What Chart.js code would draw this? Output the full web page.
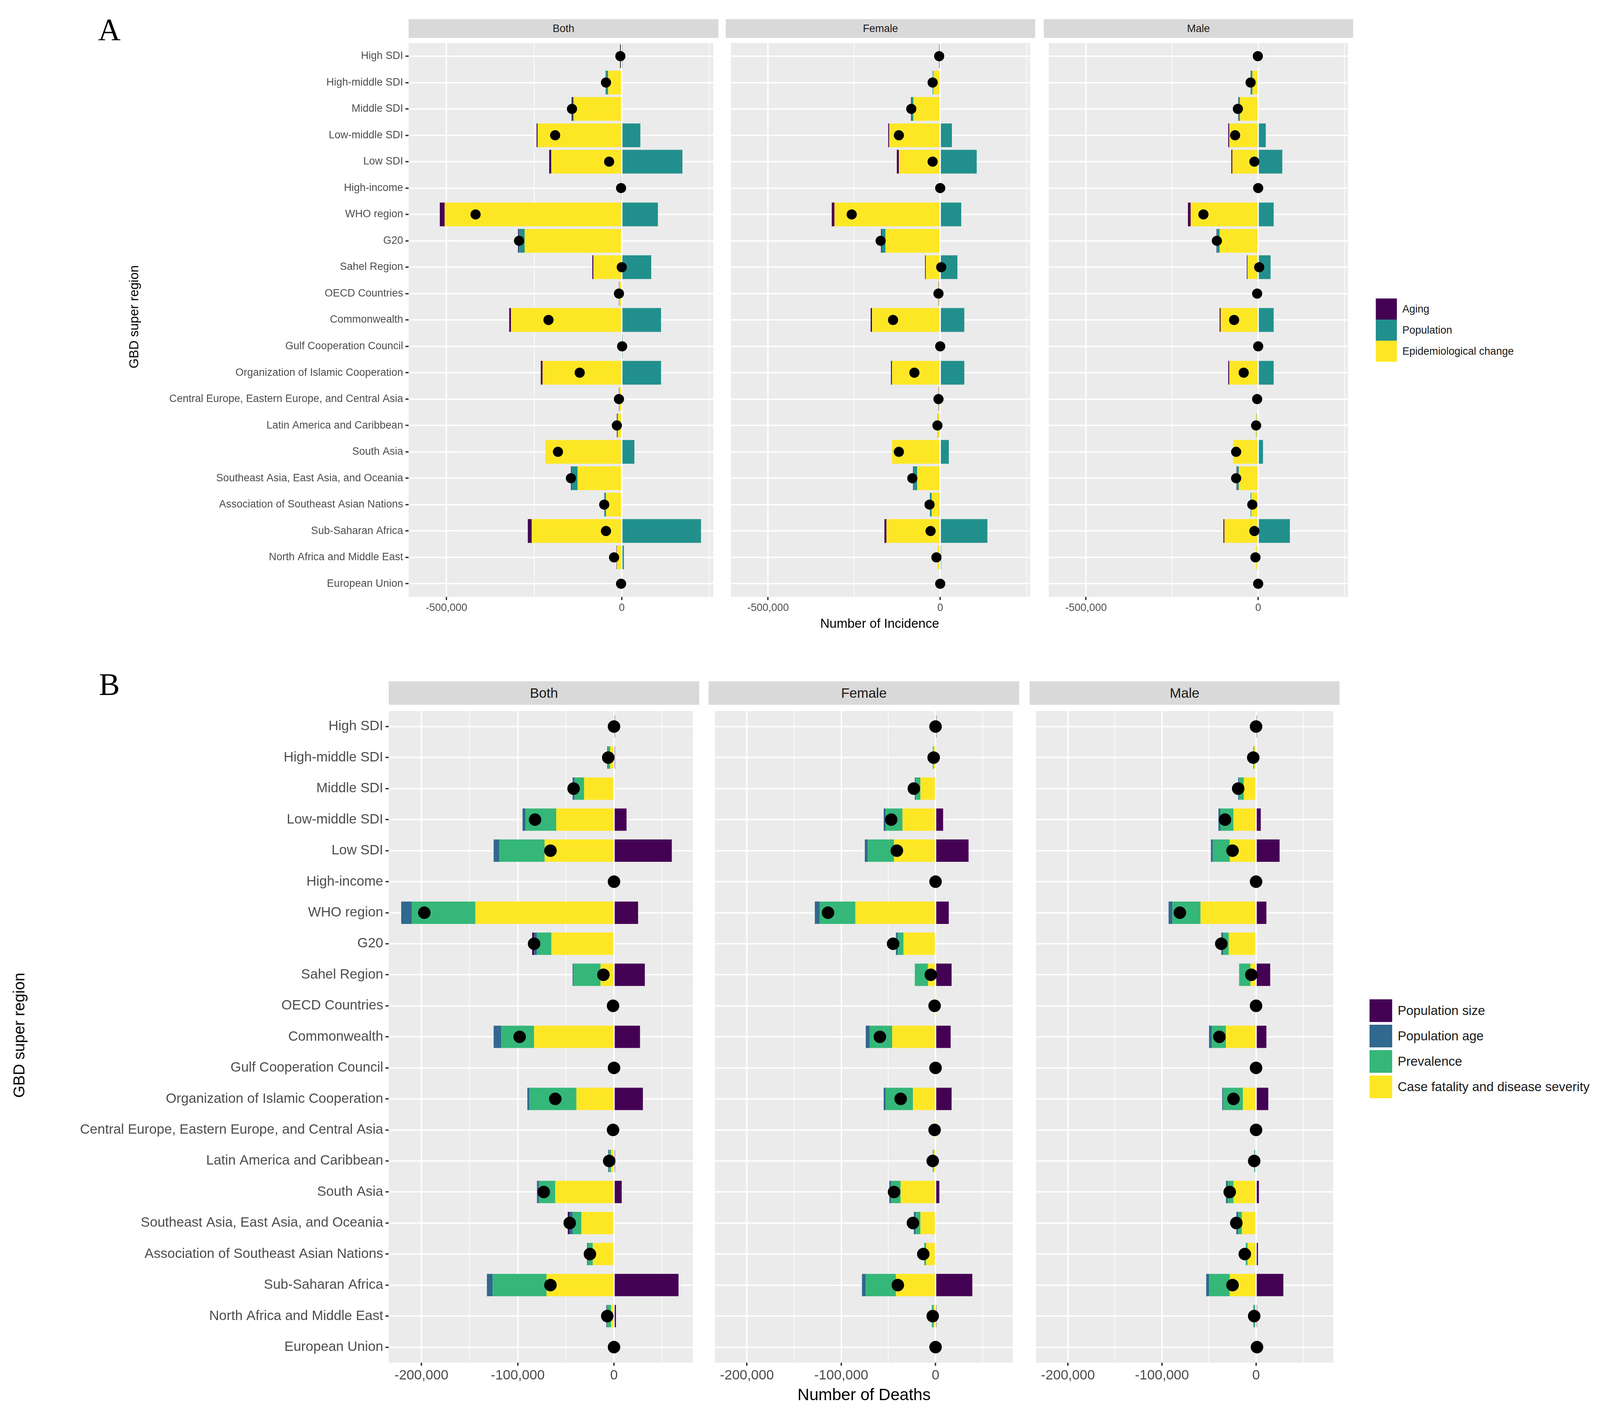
<!DOCTYPE html>
<html><head><meta charset="utf-8">
<script src="https://cdn.jsdelivr.net/npm/chart.js@4.4.1/dist/chart.umd.min.js"></script>
<style>
body{margin:0;background:#fff;font-family:"Liberation Sans",Arial,sans-serif;}
#root{position:relative;width:4240px;height:3622px;overflow:hidden;}
.abs{position:absolute;}
.strip{position:absolute;background:#D9D9D9;color:#1A1A1A;text-align:center;}
.lg{position:absolute;color:#1A1A1A;}
.lg div{display:flex;align-items:center;}
.lg span{display:inline-block;margin-right:14px;}
</style></head><body><div id="root"></div>
<script>
const regions = ["High SDI","High-middle SDI","Middle SDI","Low-middle SDI","Low SDI","High-income","WHO region","G20","Sahel Region","OECD Countries","Commonwealth","Gulf Cooperation Council","Organization of Islamic Cooperation","Central Europe, Eastern Europe, and Central Asia","Latin America and Caribbean","South Asia","Southeast Asia, East Asia, and Oceania","Association of Southeast Asian Nations","Sub-Saharan Africa","North Africa and Middle East","European Union"];
const sexes = ["Both","Female","Male"];

// Panel A, incidence, thousands
const aBothEpi = [-3,-39,-137,-240,-201,-1,-505,-277,-81,-7,-316,0,-226,-7,-11,-218,-126,-45,-257,-14,-2];
const aBothPop = [1,-6,-3,53,173,0,103,-17,84,0,112,1,112,0,-2,36,-17,-5,226,6,0];
const aBothAging = [-2,-1,-3,-3,-6,-1,-14,-2,-3,-1,-5,0,-5,-1,-1,0,-2,0,-11,-1,0];
const aBothNet = [-4,-45,-142,-190,-36,-2,-417,-293,0,-8,-209,1,-120,-8,-14,-182,-145,-50,-45,-22,-2];
const aFemEpi = [-2,-20,-78,-148,-120,0,-307,-159,-42,-4,-198,0,-140,-4,-7,-140,-67,-25,-156,-8,0];
const aFemPop = [0,-2,-6,34,106,0,61,-11,50,0,70,0,70,0,-1,25,-11,-5,137,3,0];
const aFemAging = [-1,0,-1,-3,-6,0,-8,-2,-2,-1,-4,0,-3,-1,0,0,-1,0,-6,0,0];
const aFemNet = [-3,-22,-84,-120,-22,0,-257,-173,3,-5,-137,0,-75,-5,-8,-120,-81,-31,-28,-11,0];
const aMaleEpi = [-1,-17,-53,-84,-75,0,-196,-112,-31,-3,-109,0,-84,-3,-5,-73,-56,-20,-98,-6,0];
const aMalePop = [0,-5,-4,22,70,0,45,-8,36,0,45,0,45,0,-1,14,-6,-2,92,2,0];
const aMaleAging = [0,0,-1,-3,-3,0,-8,-1,-2,0,-3,0,-3,0,0,0,-1,0,-3,0,0];
const aMaleNet = [-1,-22,-59,-67,-11,0,-159,-120,3,-3,-70,0,-42,-3,-6,-64,-64,-17,-11,-8,0];

// Panel B, deaths, thousands
const bBothCfr = [-1,-4,-31,-60,-72,0,-144,-65,-14,-1,-83,0,-39,-1,-3,-61,-34,-22,-70,-3,0];
const bBothPrev = [0,-2,-10,-32,-47,0,-66,-15,-28,0,-34,0,-49,0,-2,-17,-9,-5,-56,-4,0];
const bBothAge = [0,-1,-2,-3,-6,0,-11,-3,-1,0,-8,0,-2,0,-1,-2,-3,-1,-6,-1,0];
const bBothSize = [1,1,0,13,60,0,25,-2,32,0,27,0,30,0,1,8,-2,0,67,2,0];
const bBothNet = [0,-6,-42,-82,-66,0,-197,-83,-11,-1,-98,0,-61,-1,-5,-73,-46,-25,-66,-7,0];
const bFemCfr = [0,-2,-16,-35,-44,0,-85,-34,-8,-1,-46,0,-24,-1,-2,-37,-16,-10,-42,-2,0];
const bFemPrev = [0,-1,-5,-18,-28,0,-38,-6,-14,0,-24,0,-29,0,-1,-10,-5,-2,-32,-2,0];
const bFemAge = [0,0,-1,-2,-3,0,-5,-2,0,0,-4,0,-2,0,0,-2,-2,0,-4,0,0];
const bFemSize = [1,0,0,8,35,0,14,0,17,0,16,0,17,0,0,4,0,0,39,1,0];
const bFemNet = [0,-2,-23,-47,-41,0,-114,-45,-5,-1,-59,0,-37,-1,-3,-44,-24,-13,-40,-3,0];
const bMaleCfr = [0,-2,-13,-24,-28,0,-59,-29,-6,0,-32,0,-14,0,-1,-24,-15,-9,-28,-1,0];
const bMalePrev = [0,-1,-5,-14,-18,0,-30,-6,-12,0,-15,0,-21,0,-1,-6,-4,-2,-22,-2,0];
const bMaleAge = [0,0,-1,-2,-2,0,-4,-2,0,0,-3,0,-1,0,0,-2,-2,0,-3,0,0];
const bMaleSize = [1,0,0,5,25,0,11,0,15,0,11,0,13,0,0,3,0,2,29,1,0];
const bMaleNet = [0,-3,-19,-33,-25,0,-81,-37,-5,0,-39,0,-24,0,-2,-28,-21,-12,-25,-2,1];

const aSeries = [
  { label: "Epidemiological change", color: "#FDE725", data: [aBothEpi, aFemEpi, aMaleEpi] },
  { label: "Population", color: "#21908C", data: [aBothPop, aFemPop, aMalePop] },
  { label: "Aging", color: "#440154", data: [aBothAging, aFemAging, aMaleAging] },
];
const aNet = [aBothNet, aFemNet, aMaleNet];
const bSeries = [
  { label: "Case fatality and disease severity", color: "#FDE725", data: [bBothCfr, bFemCfr, bMaleCfr] },
  { label: "Prevalence", color: "#35B779", data: [bBothPrev, bFemPrev, bMalePrev] },
  { label: "Population age", color: "#31688E", data: [bBothAge, bFemAge, bMaleAge] },
  { label: "Population size", color: "#440154", data: [bBothSize, bFemSize, bMaleSize] },
];
const bNet = [bBothNet, bFemNet, bMaleNet];

const root = document.getElementById("root");
const fmt = (v) => v === 0 ? "0" : "-" + Math.abs(v).toLocaleString("en-US");

const bgPlugin = {
  id: "bg",
  beforeDraw(chart) {
    const { ctx, chartArea: a } = chart;
    ctx.save();
    ctx.fillStyle = "#EBEBEB";
    ctx.fillRect(a.left, a.top, a.right - a.left, a.bottom - a.top);
    ctx.restore();
  },
};

function panel(cfg, i) {
  const x0 = cfg.px[i][0], x1 = cfg.px[i][1];
  const yw = i === 0 ? cfg.yw : 0;
  const xh = cfg.xh;
  const strip = document.createElement("div");
  strip.className = "strip";
  Object.assign(strip.style, {
    left: x0 + "px", top: cfg.stripTop + "px", width: (x1 - x0) + "px",
    height: (cfg.plotTop - cfg.stripTop) + "px", lineHeight: (cfg.plotTop - cfg.stripTop) + "px",
    fontSize: cfg.stripFont + "px",
  });
  strip.textContent = sexes[i];
  root.appendChild(strip);

  const wrap = document.createElement("div");
  wrap.className = "abs";
  const w = x1 - x0 + yw, h = cfg.plotBottom - cfg.plotTop + xh;
  Object.assign(wrap.style, { left: (x0 - yw) + "px", top: cfg.plotTop + "px", width: w + "px", height: h + "px" });
  const canvas = document.createElement("canvas");
  wrap.appendChild(canvas);
  root.appendChild(wrap);

  const datasets = cfg.series.map((s) => ({
    type: "bar",
    label: s.label,
    data: s.data[i].map((v) => v * 1000),
    backgroundColor: s.color,
    borderWidth: 0,
    stack: "s",
    categoryPercentage: cfg.barPct,
    barPercentage: 1,
    order: 2,
  }));
  datasets.push({
    type: "scatter",
    label: "net",
    data: cfg.net[i].map((v, k) => ({ x: v * 1000, y: regions[k] })),
    backgroundColor: "#000",
    borderWidth: 0,
    pointRadius: cfg.dot,
    order: 1,
  });

  new Chart(canvas, {
    type: "bar",
    data: { labels: regions, datasets },
    options: {
      indexAxis: "y",
      responsive: true,
      maintainAspectRatio: false,
      animation: false,
      layout: { padding: 0 },
      plugins: { legend: { display: false }, tooltip: { enabled: false } },
      scales: {
        x: {
          type: "linear", stacked: true, min: cfg.min, max: cfg.max,
          afterFit: (s) => { s.height = xh; s.paddingLeft = 0; s.paddingRight = 0; },
          afterBuildTicks: (s) => {
            const t = [];
            for (let v = Math.ceil(cfg.min / cfg.minor) * cfg.minor; v <= cfg.max; v += cfg.minor) t.push({ value: v });
            s.ticks = t;
          },
          ticks: {
            autoSkip: false, maxRotation: 0, color: "#4D4D4D", font: { size: cfg.tickFont }, padding: 4,
            callback: (v) => (Math.round(v) % cfg.major === 0 ? fmt(v) : ""),
          },
          grid: {
            color: "#FFFFFF",
            lineWidth: (c) => (c.tick && c.tick.value % cfg.major === 0 ? 3.5 : 1.6),
            tickColor: (c) => (c.tick && c.tick.value % cfg.major === 0 ? "#333" : "rgba(0,0,0,0)"),
            tickLength: 8,
          },
          border: { display: false },
        },
        y: {
          type: "category", stacked: true, offset: true,
          afterFit: (s) => { s.width = yw; s.paddingTop = 0; s.paddingBottom = 0; },
          ticks: { display: i === 0, color: "#4D4D4D", font: { size: cfg.yFont }, padding: 6, autoSkip: false },
          grid: { offset: false, color: "#FFFFFF", lineWidth: 3.5, tickColor: "#333", tickLength: i === 0 ? 8 : 0 },
          border: { display: false },
        },
      },
    },
    plugins: [bgPlugin],
  });
}

function text(str, x, y, size, opts = {}) {
  const d = document.createElement("div");
  d.className = "abs";
  d.textContent = str;
  Object.assign(d.style, {
    left: x + "px", top: y + "px", fontSize: size + "px", color: "#000", whiteSpace: "nowrap",
    transform: opts.rotate ? "translate(-50%,-50%) rotate(-90deg)" : "translate(-50%,-50%)",
    fontFamily: opts.serif ? '"Liberation Serif",serif' : "inherit",
  });
  root.appendChild(d);
}

function legend(items, x, y, sw, gap, size) {
  const lg = document.createElement("div");
  lg.className = "lg";
  Object.assign(lg.style, { left: x + "px", top: y + "px", fontSize: size + "px" });
  for (const it of items) {
    const row = document.createElement("div");
    row.style.height = gap + "px";
    row.innerHTML = `<span style="width:${sw}px;height:${sw}px;background:${it.color}"></span>${it.label}`;
    lg.appendChild(row);
  }
  root.appendChild(lg);
}

const cfgA = {
  px: [[1046, 1839], [1858, 2650], [2672, 3464]],
  stripTop: 49, plotTop: 97, plotBottom: 1528, yw: 720, xh: 52,
  min: -608000, max: 261000, minor: 250000, major: 500000,
  series: aSeries, net: aNet, barPct: 0.9, dot: 13,
  tickFont: 27, yFont: 27, stripFont: 27,
};
const cfgB = {
  px: [[995, 1790], [1814, 2609], [2636, 3429]],
  stripTop: 1744, plotTop: 1804, plotBottom: 3488, yw: 960, xh: 62,
  min: -234000, max: 82000, minor: 50000, major: 100000,
  series: bSeries, net: bNet, barPct: 0.72, dot: 16,
  tickFont: 35, yFont: 35, stripFont: 35,
};
for (let i = 0; i < 3; i++) { panel(cfgA, i); panel(cfgB, i); }

text("A", 280, 76, 80, { serif: true });
text("B", 280, 1752, 80, { serif: true });
text("Number of Incidence", 2252, 1596, 33);
text("Number of Deaths", 2212, 3570, 42);
text("GBD super region", 343, 811, 33, { rotate: true });
text("GBD super region", 49, 2650, 40, { rotate: true });

legend([...aSeries].reverse(), 3522, 764, 54, 54, 27);
legend([...bSeries].reverse(), 3506, 2554, 58, 65, 33);
</script></body></html>
